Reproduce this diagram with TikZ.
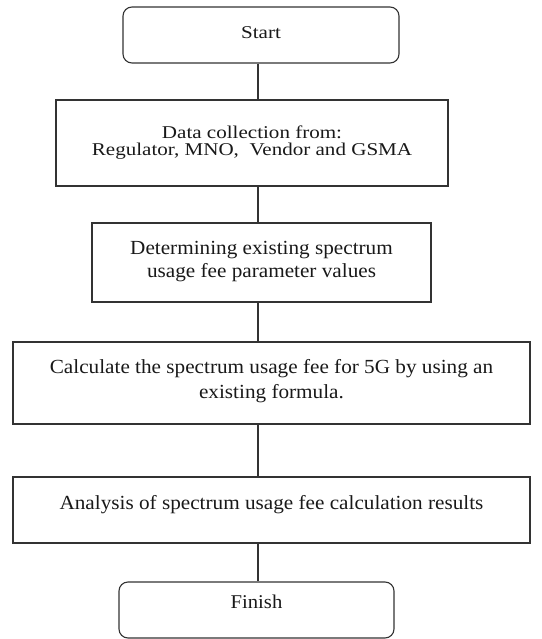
\documentclass[tikz,border=0pt]{standalone}
\usepackage{fontspec}
\newfontfamily\fontA[FakeStretch=1.17]{Liberation Serif}
\newfontfamily\fontB[FakeStretch=1.06]{Liberation Serif}
\begin{document}
\begin{tikzpicture}[x=1pt,y=-1pt,
  box/.style={draw=black!80, line width=1.1pt, inner sep=0pt, align=center, text=black!90},
  term/.style={box, rounded corners=9pt},
  conn/.style={draw=black!80, line width=1.1pt}]
\useasboundingbox (0,0) rectangle (541,639);
\coordinate (lx) at (258,0);
\node[term, minimum width=276pt, minimum height=56pt, font=\fontA\fontsize{18}{15}\selectfont] (start) at (261,35) {Start\\[-10pt]\mbox{}};
\node[box, minimum width=392pt, minimum height=86pt, font=\fontA\fontsize{18}{17}\selectfont] (b2) at (252,143) {Data collection from:\\Regulator, MNO,\ \ Vendor and GSMA\\[-12pt]\mbox{}};
\node[box, minimum width=339pt, minimum height=79pt, font=\fontB\fontsize{20}{23}\selectfont] (b3) at (261.5,262.5) {\mbox{}\\[-12pt]Determining existing spectrum\\usage fee parameter values};
\node[box, minimum width=517pt, minimum height=82pt, font=\fontB\fontsize{20}{25}\selectfont] (b4) at (271.5,383) {\mbox{}\\[-14pt]Calculate the spectrum usage fee for 5G by using an\\existing formula.};
\node[box, minimum width=517pt, minimum height=66pt, font=\fontB\fontsize{20}{24}\selectfont] (b5) at (271.5,510) {Analysis of spectrum usage fee calculation results\\[-8pt]\mbox{}};
\node[term, minimum width=275pt, minimum height=56pt, font=\fontB\fontsize{19.5}{22}\selectfont] (fin) at (256.5,610) {Finish\\[-6pt]\mbox{}};
\draw[conn] (start.south -| lx) -- (b2.north -| lx);
\draw[conn] (b2.south -| lx) -- (b3.north -| lx);
\draw[conn] (b3.south -| lx) -- (b4.north -| lx);
\draw[conn] (b4.south -| lx) -- (b5.north -| lx);
\draw[conn] (b5.south -| lx) -- (fin.north -| lx);
\end{tikzpicture}
\end{document}
